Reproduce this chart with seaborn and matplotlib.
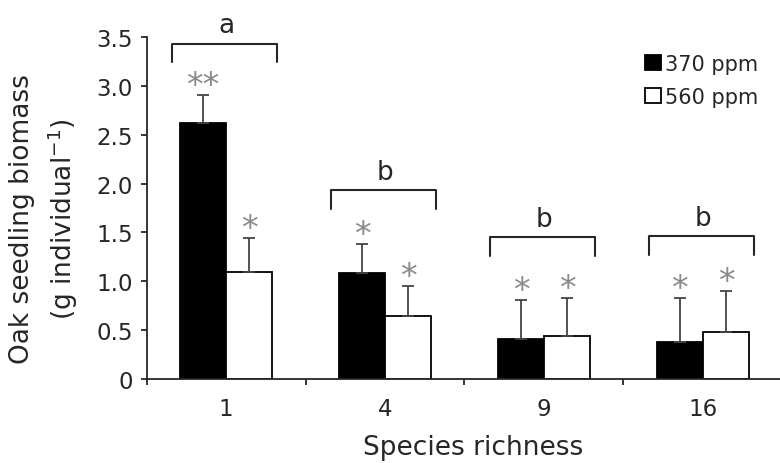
import numpy as np
import pandas as pd
import matplotlib
matplotlib.use('Agg')
import matplotlib.pyplot as plt
from matplotlib.patches import Patch
import seaborn as sns

# values
richness = ['1', '4', '9', '16']
co2_levels = ['370 ppm', '560 ppm']
mean_370 = [2.62, 1.08, 0.41, 0.38]
mean_560 = [1.10, 0.65, 0.44, 0.48]
se_370 = [0.29, 0.30, 0.40, 0.45]
se_560 = [0.34, 0.30, 0.39, 0.42]
stars_370 = ['**', '*', '*', '*']
stars_560 = ['*', '*', '*', '*']
group_letters = ['a', 'b', 'b', 'b']
bracket_tops = [3.43, 1.93, 1.45, 1.46]
yticks = [0, 0.5, 1.0, 1.5, 2.0, 2.5, 3.0, 3.5]
ytick_labels = ['0', '0.5', '1.0', '1.5', '2.0', '2.5', '3.0', '3.5']

df = pd.DataFrame({
    'richness': richness * 2,
    'co2': [co2_levels[0]] * 4 + [co2_levels[1]] * 4,
    'biomass': mean_370 + mean_560,
    'se': se_370 + se_560,
})

sns.set_style('ticks')
plt.rcParams['font.family'] = ['DejaVu Sans']
ink = '#262626'

fig = plt.figure(figsize=(7.8, 4.64), dpi=100)
ax = fig.add_axes([0.188, 0.181, 0.815, 0.737])

sns.barplot(data=df, x='richness', y='biomass', hue='co2',
            order=richness, hue_order=co2_levels,
            palette={'370 ppm': 'black', '560 ppm': 'white'},
            edgecolor='black', linewidth=1.3, errorbar=None,
            width=0.58, legend=False, ax=ax)

# one-sided error bars and significance stars
stars = {co2_levels[0]: stars_370, co2_levels[1]: stars_560}
for level, cont in zip(co2_levels, ax.containers):
    sub = df[df.co2 == level]
    xs = [p.get_x() + p.get_width() / 2 for p in cont.patches]
    ax.errorbar(xs, sub.biomass, yerr=[np.zeros(len(sub)), sub.se],
                fmt='none', ecolor='#444444', elinewidth=1.3,
                capsize=4, capthick=1.3, zorder=3)
    for x, top, s in zip(xs, sub.biomass + sub.se, stars[level]):
        ax.annotate(s, (x, top), xytext=(0, 0), textcoords='offset points',
                    ha='center', va='baseline', fontsize=24,
                    color='#8a8a8a', annotation_clip=False)

# brackets with group letters
for i, (letter, top) in enumerate(zip(group_letters, bracket_tops)):
    ax.plot([i - 0.34, i - 0.34, i + 0.32, i + 0.32],
            [top - 0.19, top, top, top - 0.19],
            color=ink, lw=1.5, clip_on=False)
    ax.text(i, top + 0.12, letter, ha='center', va='baseline',
            fontsize=19, color=ink, clip_on=False)

ax.set_ylim(0, 3.5)
ax.set_yticks(yticks)
ax.set_yticklabels(ytick_labels)
ax.set_xlim(-0.5, 3.5)
ax.set_xticks(range(len(richness)))
ax.set_xticklabels(richness)
ax.set_xticks([-0.5, 0.5, 1.5, 2.5, 3.5], minor=True)
ax.tick_params(axis='x', which='major', length=0, pad=13, labelsize=16.5,
               labelcolor=ink)
ax.tick_params(axis='x', which='minor', length=4, width=1.3,
               direction='out', color=ink)
ax.tick_params(axis='y', length=4, width=1.3, pad=6, labelsize=16.5,
               color=ink, labelcolor=ink)
sns.despine(ax=ax)
for side in ['left', 'bottom']:
    ax.spines[side].set_color(ink)
    ax.spines[side].set_linewidth(1.3)

ax.set_xlabel('Species richness', fontsize=19, color=ink)
ax.xaxis.set_label_coords(0.514, -0.16)
ax.set_ylabel('Oak seedling biomass\n(g individual$^{\\mathregular{-1}}$)',
              fontsize=19, color=ink, linespacing=1.4)
ax.yaxis.set_label_coords(-0.105, 0.47)

handles = [Patch(facecolor='black', edgecolor='black', linewidth=1.3),
           Patch(facecolor='white', edgecolor='black', linewidth=1.3)]
fig.legend(handles, co2_levels, loc='upper left',
           bbox_to_anchor=(645 / 780, 1 - 55 / 464), frameon=False,
           fontsize=15, handlelength=0.75, handleheight=0.75,
           handletextpad=0.2, labelspacing=0.6, borderpad=0,
           borderaxespad=0)

fig.savefig('out.png', dpi=100)
